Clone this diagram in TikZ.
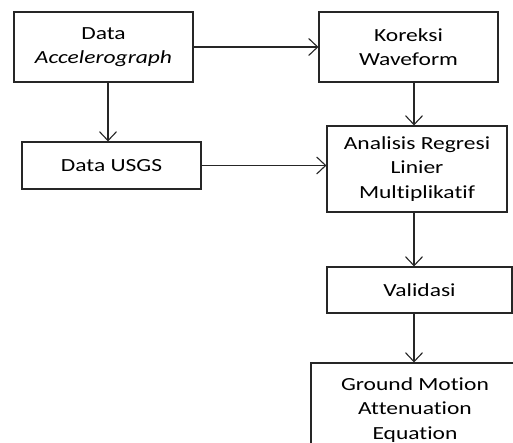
\documentclass[tikz,border=0pt]{standalone}
\usepackage{fontspec}
\setmainfont{Carlito}[FakeStretch=1.27,Ligatures=NoCommon]
\usetikzlibrary{arrows.meta}
\begin{document}
\begin{tikzpicture}[x=1pt,y=-1pt,
  box/.style={draw=black!85,line width=1.1pt,align=center,inner sep=0pt,
    font=\fontsize{18.5}{24.5}\selectfont},
  arr/.style={draw=black!85,line width=1.1pt,-{Straight Barb[length=9pt,width=17pt,line width=1.1pt]}}]
\useasboundingbox (0,0) rectangle (513,443);
\clip (0,0) rectangle (513,443);
\node[box,minimum width=179pt,minimum height=70pt] (acc) at (103.5,47) {Data\\\textit{Accelerograph}};
\node[box,minimum width=179pt,minimum height=70pt] (kor) at (408.5,47) {Koreksi\\Waveform};
\node[box,minimum width=179pt,minimum height=47pt] (usgs) at (111.5,165.5) {Data USGS};
\node[box,minimum width=180pt,minimum height=86pt] (ana) at (417,169) {Analisis Regresi\\Linier\\Multiplikatif};
\node[box,minimum width=185pt,minimum height=46pt] (val) at (419.5,290) {Validasi};
\node[box,minimum width=208pt,minimum height=94pt] (gm) at (415,410) {Ground Motion\\Attenuation\\Equation};
\draw[arr] (acc.south -| 108,0) -- (usgs.north -| 108,0);
\draw[arr] (acc.east) -- (kor.west);
\draw[arr] (kor.south -| 414,0) -- (ana.north -| 414,0);
\draw[arr] (usgs.east) -- (ana.west |- usgs.east);
\draw[arr] (ana.south -| 414,0) -- (val.north -| 414,0);
\draw[arr] (val.south -| 414,0) -- (gm.north -| 414,0);
\end{tikzpicture}
\end{document}
